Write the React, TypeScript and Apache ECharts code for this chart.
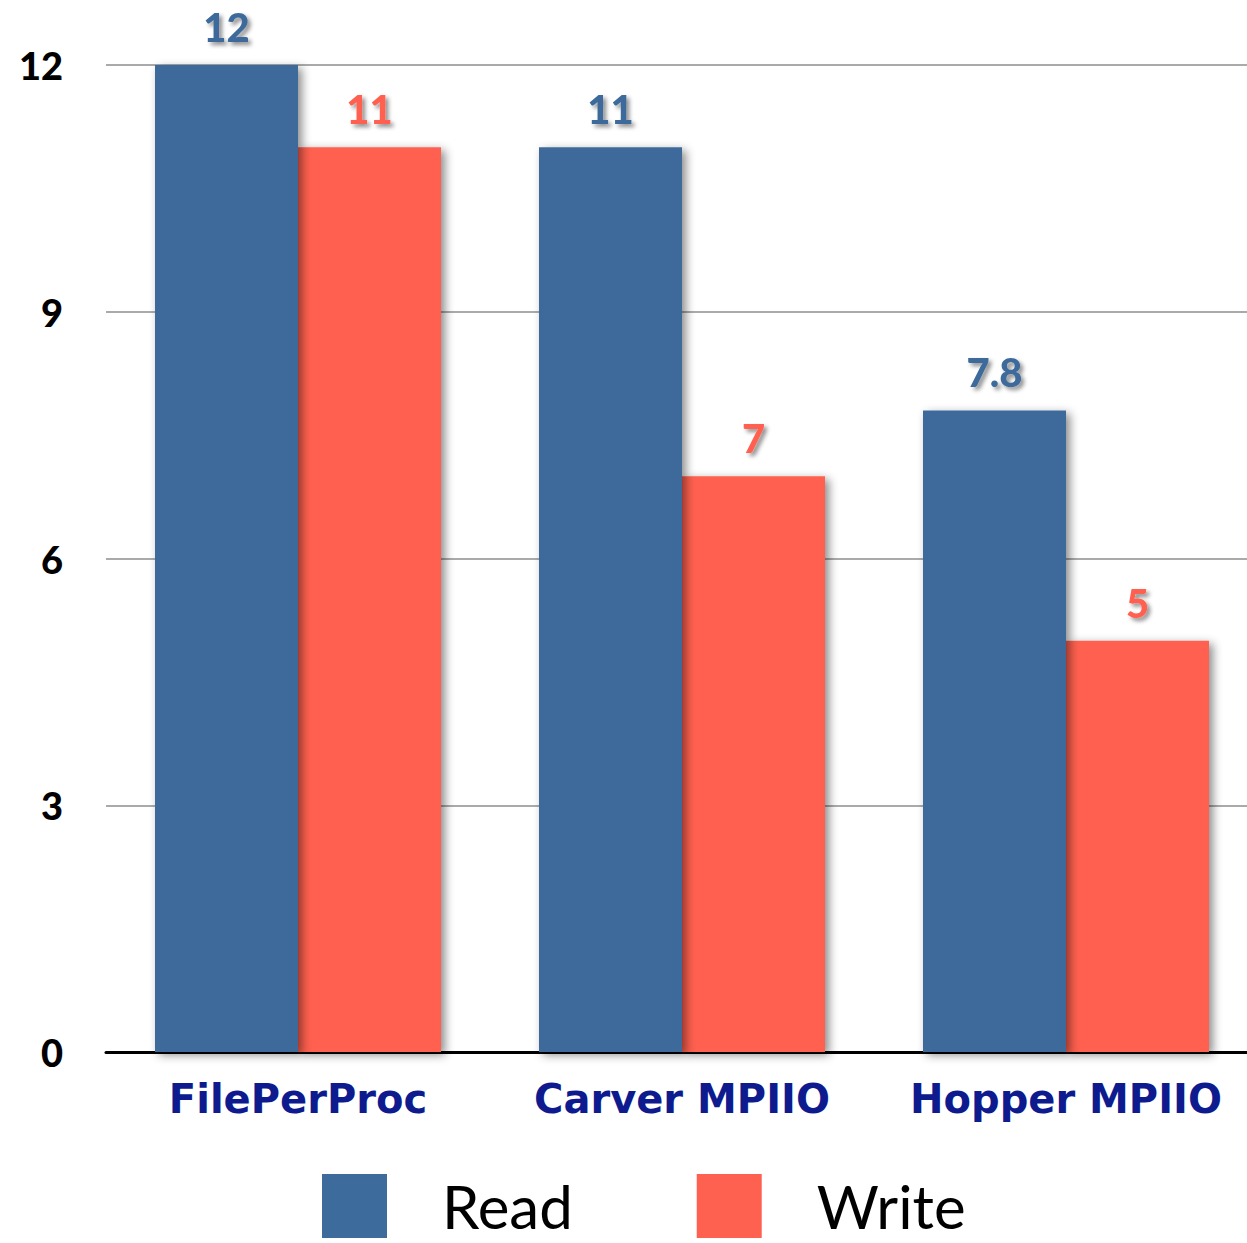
import React, { useEffect, useRef } from "react";
import * as echarts from "echarts";

const categories = ["FilePerProc", "Carver MPIIO", "Hopper MPIIO"];
const readValues = [12, 11, 7.8];
const writeValues = [11, 7, 5];
const seriesNames = ["Read", "Write"];

export default function App() {
  const ref = useRef<HTMLDivElement>(null);
  useEffect(() => {
    document.body.style.margin = "0";
    const chart = echarts.init(ref.current!, null, { renderer: "svg" });
    const blue = "#3d6b9b";
    const red = "#ff6150";
    const barShadow = {
      shadowColor: "rgba(0,0,0,0.45)",
      shadowBlur: 10,
      shadowOffsetX: 4,
      shadowOffsetY: 3,
    };
    const labelCommon = {
      show: true,
      position: "top",
      distance: 18,
      fontFamily: "Lato",
      fontWeight: 900,
      fontSize: 40,
      textShadowColor: "rgba(0,0,0,0.45)",
      textShadowBlur: 4,
      textShadowOffsetX: 3,
      textShadowOffsetY: 3,
    };
    chart.setOption({
      animation: false,
      grid: {
        left: 106,
        width: 1152,
        top: 65,
        bottom: 191,
        containLabel: false,
        outerBoundsMode: "none",
      },
      legend: {
        left: 317,
        top: 1169,
        itemWidth: 65,
        itemHeight: 64,
        itemGap: 124,
        icon: "rect",
        data: seriesNames,
        textStyle: {
          fontFamily: "Lato",
          fontSize: 60,
          lineHeight: 60,
          color: "#000",
          padding: [0, 0, 0, 50],
        },
      },
      xAxis: {
        type: "category",
        data: categories,
        axisLine: { lineStyle: { color: "#000", width: 3 } },
        axisTick: { show: false },
        axisLabel: {
          interval: 0,
          color: "#0d1b8e",
          fontFamily: "DejaVu Sans",
          fontWeight: "bold",
          fontSize: 40,
          margin: 27,
        },
      },
      yAxis: {
        type: "value",
        min: 0,
        max: 12,
        interval: 3,
        axisLine: { show: false },
        axisTick: { show: false },
        splitLine: { lineStyle: { color: "#aaaaaa", width: 2 } },
        axisLabel: {
          color: "#000",
          fontFamily: "Lato",
          fontWeight: 900,
          fontSize: 38,
          margin: 43,
        },
      },
      series: [
        {
          name: seriesNames[0],
          type: "bar",
          data: readValues,
          barWidth: 143,
          barGap: "0%",
          z: 3,
          itemStyle: { color: blue, ...barShadow },
          label: { ...labelCommon, color: blue },
        },
        {
          name: seriesNames[1],
          type: "bar",
          data: writeValues,
          barWidth: 143,
          z: 2,
          itemStyle: { color: red, ...barShadow },
          label: { ...labelCommon, color: red },
        },
      ],
    });
    return () => chart.dispose();
  }, []);
  return <div ref={ref} style={{ width: 1247, height: 1243 }} />;
}
